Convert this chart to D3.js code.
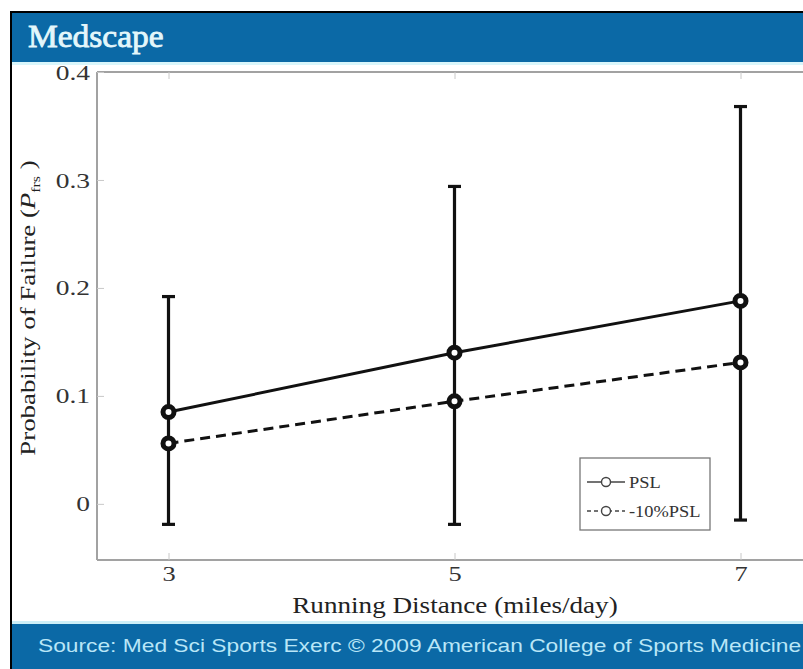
<!DOCTYPE html>
<html>
<head>
<meta charset="utf-8">
<script src="https://cdn.jsdelivr.net/npm/d3@7"></script>
<style>
  html, body { margin: 0; padding: 0; background: #fff; }
  svg { display: block; }
</style>
</head>
<body>
<script>
// Running distance (miles/day) on the x axis
const distances = [3, 5, 7];
// Probability of failure: means per loading case
const pslMean = [0.085, 0.140, 0.188];
const psl10Mean = [0.056, 0.095, 0.131];
// Error bar extents: upward for PSL, downward for -10%PSL
const pslUpperErr = [0.107, 0.154, 0.180];
const psl10LowerErr = [0.075, 0.114, 0.146];
const seriesNames = ["PSL", "-10%PSL"];
const yTicks = [0, 0.1, 0.2, 0.3, 0.4];
const xTicks = [3, 5, 7];

const W = 803, H = 669;
const svg = d3.select("body").append("svg").attr("width", W).attr("height", H);
svg.append("rect").attr("width", W).attr("height", H).attr("fill", "#fff");

const x = d3.scaleLinear().domain([2.5, 7.5]).range([97, 812]);
const y = d3.scaleLinear().domain([-0.052, 0.4]).range([560, 72]);

const serif = "'Liberation Serif', 'Times New Roman', serif";
const axisGrey = "#a2a2a2";

// widen glyphs horizontally about each text's own x position
function hstretch(sel, k) {
  sel.each(function () {
    const t = d3.select(this);
    const x0 = +t.attr("x") || 0;
    const prev = t.attr("transform") || "";
    t.attr("x", x0 / k).attr("transform", (prev + ` scale(${k},1)`).trim());
  });
}

const plot = svg.append("g");

// axis frame
[[x(2.5), x(7.5), y(0.4), y(0.4)],
 [x(2.5), x(7.5), y(-0.052), y(-0.052)],
 [x(2.5), x(2.5), y(0.4), y(-0.052)]].forEach(([x1, x2, y1, y2]) => {
  plot.append("line").attr("x1", x1).attr("x2", x2).attr("y1", y1).attr("y2", y2)
    .attr("stroke", axisGrey).attr("stroke-width", 2);
});

// inward ticks on all four sides
const tickLen = 7;
const gB = plot.append("g").attr("transform", `translate(0,${y(-0.052)})`)
  .call(d3.axisBottom(x).tickValues(xTicks).tickSize(-tickLen).tickFormat(d3.format("d")).tickPadding(5));
gB.select(".domain").remove();
gB.selectAll("line").attr("stroke", "#c8c8c8");
gB.selectAll("text").attr("font-family", serif).attr("font-size", 22).attr("fill", "#333").call(hstretch, 1.2);

const gT = plot.append("g").attr("transform", `translate(0,${y(0.4)})`)
  .call(d3.axisTop(x).tickValues(xTicks).tickSize(-tickLen).tickFormat(""));
gT.select(".domain").remove();
gT.selectAll("line").attr("stroke", "#c8c8c8");

const gL = plot.append("g").attr("transform", `translate(${x(2.5)},0)`)
  .call(d3.axisLeft(y).tickValues(yTicks).tickSize(-tickLen)
    .tickFormat(d => d === 0 ? "0" : d3.format(".1f")(d)).tickPadding(7));
gL.select(".domain").remove();
gL.selectAll("line").attr("stroke", "#c8c8c8");
gL.selectAll("text").attr("font-family", serif).attr("font-size", 22).attr("fill", "#333").call(hstretch, 1.25);

const gR = plot.append("g").attr("transform", `translate(${x(7.5)},0)`)
  .call(d3.axisRight(y).tickValues(yTicks).tickSize(-tickLen).tickFormat(""));
gR.select(".domain").remove();
gR.selectAll("line").attr("stroke", "#dadada");

// error bars
const capW = 6.5;
function errorBar(g, d, from, to) {
  g.append("line").attr("x1", x(d)).attr("x2", x(d)).attr("y1", y(from)).attr("y2", y(to))
    .attr("stroke", "#111").attr("stroke-width", 3.2);
  g.append("line").attr("x1", x(d) - capW).attr("x2", x(d) + capW).attr("y1", y(to)).attr("y2", y(to))
    .attr("stroke", "#111").attr("stroke-width", 3.2);
}
const gE = plot.append("g");
distances.forEach((d, i) => {
  errorBar(gE, d, pslMean[i], pslMean[i] + pslUpperErr[i]);
  errorBar(gE, d, psl10Mean[i], psl10Mean[i] - psl10LowerErr[i]);
  gE.append("line").attr("x1", x(d)).attr("x2", x(d)).attr("y1", y(pslMean[i])).attr("y2", y(psl10Mean[i]))
    .attr("stroke", "#111").attr("stroke-width", 3.2);
});

const line = d3.line().x((d, i) => x(distances[i])).y(d => y(d));
plot.append("path").datum(pslMean).attr("d", line).attr("fill", "none")
  .attr("stroke", "#111").attr("stroke-width", 3);
plot.append("path").datum(psl10Mean).attr("d", line).attr("fill", "none")
  .attr("stroke", "#111").attr("stroke-width", 3).attr("stroke-dasharray", "10,6");

function markers(means) {
  plot.append("g").selectAll("circle").data(means).join("circle")
    .attr("cx", (d, i) => x(distances[i])).attr("cy", d => y(d)).attr("r", 5.5)
    .attr("fill", "#fff").attr("stroke", "#111").attr("stroke-width", 5);
}
markers(pslMean);
markers(psl10Mean);

// legend
const leg = plot.append("g").attr("transform", "translate(580,458)");
leg.append("rect").attr("width", 130).attr("height", 72).attr("fill", "#fff")
  .attr("stroke", "#777").attr("stroke-width", 1.3);
seriesNames.forEach((name, i) => {
  const ly = 24 + i * 29;
  leg.append("line").attr("x1", 7).attr("x2", 45).attr("y1", ly).attr("y2", ly)
    .attr("stroke", "#444").attr("stroke-width", 1.4)
    .attr("stroke-dasharray", i === 1 ? "4,3" : null);
  leg.append("circle").attr("cx", 26).attr("cy", ly).attr("r", 4.5)
    .attr("fill", "#fff").attr("stroke", "#444").attr("stroke-width", 1.4);
  leg.append("text").attr("x", 49).attr("y", ly + 6).text(name)
    .attr("font-family", serif).attr("font-size", 16).attr("fill", "#333").call(hstretch, 1.15);
});

// axis titles
svg.append("text").attr("x", 455).attr("y", 613).attr("text-anchor", "middle")
  .attr("font-family", serif).attr("font-size", 23).attr("fill", "#222")
  .text("Running Distance (miles/day)").call(hstretch, 1.18);

const yTitle = svg.append("text").attr("transform", "translate(35,308) rotate(-90) scale(1.22,1)")
  .attr("text-anchor", "middle").attr("font-family", serif).attr("font-size", 22).attr("fill", "#222");
yTitle.append("tspan").text("Probability of Failure (");
yTitle.append("tspan").attr("font-style", "italic").text("P");
yTitle.append("tspan").attr("font-size", 13).attr("dy", 5).text("frs");
yTitle.append("tspan").attr("dy", -5).text(" )");

// header band
const blue = "#0b69a6";
svg.append("rect").attr("x", 11).attr("y", 12).attr("width", W - 11).attr("height", 50).attr("fill", blue);
svg.append("rect").attr("x", 11).attr("y", 62).attr("width", W - 11).attr("height", 3).attr("fill", "#d9f6fb");
svg.append("text").attr("x", 28).attr("y", 47).text("Medscape")
  .attr("font-family", serif).attr("font-size", 31).attr("fill", "#e3f7fb")
  .attr("stroke", "#e3f7fb").attr("stroke-width", 0.8).call(hstretch, 1.08);

// footer band
svg.append("rect").attr("x", 11).attr("y", 621).attr("width", W - 11).attr("height", 3).attr("fill", "#cdeff8");
svg.append("rect").attr("x", 11).attr("y", 624).attr("width", W - 11).attr("height", H - 624).attr("fill", blue);
svg.append("text").attr("x", 38).attr("y", 652)
  .text("Source: Med Sci Sports Exerc \u00A9 2009 American College of Sports Medicine")
  .attr("font-family", "'Liberation Sans', Arial, sans-serif").attr("font-size", 18).attr("fill", "#b9e6f7")
  .call(hstretch, 1.265);

// outer border lines
svg.append("line").attr("x1", 11).attr("x2", 11).attr("y1", 11).attr("y2", H).attr("stroke", "#000").attr("stroke-width", 2);
svg.append("line").attr("x1", 10).attr("x2", W).attr("y1", 12).attr("y2", 12).attr("stroke", "#000").attr("stroke-width", 2);
</script>
</body>
</html>
